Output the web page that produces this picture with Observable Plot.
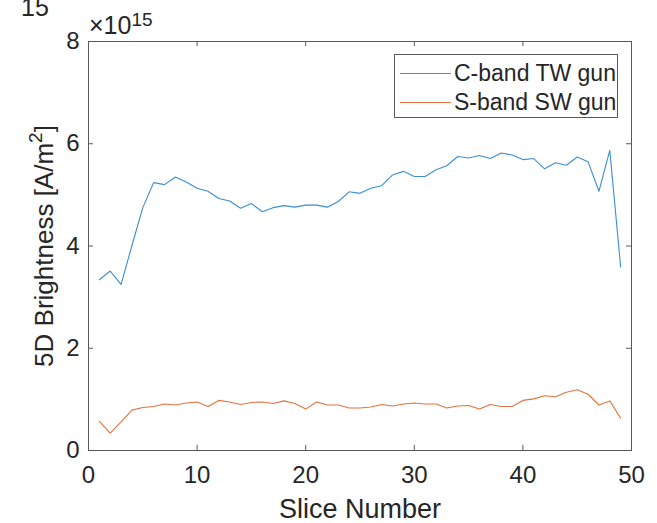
<!DOCTYPE html>
<html>
<head>
<meta charset="utf-8">
<script src="https://cdn.jsdelivr.net/npm/d3@7"></script>
<script src="https://cdn.jsdelivr.net/npm/@observablehq/plot@0.6"></script>
<style>
  html, body { margin: 0; padding: 0; background: #fff; }
  #wrap { position: relative; width: 657px; height: 523px; font-family: "Liberation Sans", Arial, sans-serif; color: #262626; overflow: hidden; }
  .ov { position: absolute; white-space: nowrap; line-height: 1; }
</style>
</head>
<body>
<div id="wrap"></div>
<script>
const slices = d3.range(1, 50);
const cbandTW = [3.34,3.51,3.25,4.01,4.75,5.24,5.20,5.35,5.25,5.13,5.07,4.93,4.88,4.74,4.83,4.67,4.75,4.79,4.76,4.80,
                 4.80,4.76,4.87,5.06,5.03,5.13,5.18,5.39,5.46,5.36,5.36,5.49,5.57,5.75,5.72,5.77,5.71,5.82,5.78,5.69,
                 5.71,5.51,5.63,5.58,5.74,5.65,5.07,5.87,3.59];
const sbandSW = [0.57,0.34,0.56,0.79,0.84,0.86,0.91,0.89,0.93,0.95,0.86,0.98,0.95,0.90,0.94,0.95,0.92,0.97,0.92,0.81,
                 0.95,0.89,0.89,0.83,0.83,0.85,0.90,0.87,0.91,0.93,0.91,0.91,0.83,0.87,0.88,0.81,0.90,0.86,0.86,0.98,
                 1.01,1.07,1.05,1.14,1.19,1.10,0.89,0.97,0.63];
const seriesNames = ["C-band TW gun", "S-band SW gun"];
const colors = ["#3a8fd5", "#e4733f"];
const xTicks = [0, 10, 20, 30, 40, 50];
const yTicks = [0, 2, 4, 6, 8];
const xLabel = "Slice Number";
const yLabelMain = "5D Brightness [A/m";
const yLabelSup = "2";
const yLabelEnd = "]";

const rows = [];
slices.forEach((s, i) => {
  rows.push({slice: s, value: cbandTW[i], series: seriesNames[0]});
  rows.push({slice: s, value: sbandSW[i], series: seriesNames[1]});
});

const axisColor = "#5a5a5a";
const chart = Plot.plot({
  width: 657,
  height: 523,
  marginLeft: 88,
  marginRight: 26,
  marginTop: 41,
  marginBottom: 73,
  style: {fontFamily: "'Liberation Sans', Arial, sans-serif", fontSize: "24px", color: "#262626", background: "#fff", overflow: "visible"},
  x: {domain: [0, 50], ticks: xTicks, label: null},
  y: {domain: [0, 8], ticks: yTicks, label: null},
  color: {domain: seriesNames, range: colors},
  marks: [
    Plot.frame({stroke: axisColor, strokeWidth: 1}),
    // inward tick marks on all four sides
    Plot.ruleX(xTicks, {x: d => d, y1: 0, y2: 0.1, stroke: axisColor}),
    Plot.ruleX(xTicks, {x: d => d, y1: 8, y2: 7.9, stroke: axisColor}),
    Plot.ruleY(yTicks, {y: d => d, x1: 0, x2: 0.46, stroke: axisColor}),
    Plot.ruleY(yTicks, {y: d => d, x1: 50, x2: 49.54, stroke: axisColor}),
    Plot.axisX({ticks: xTicks, tickSize: 0, tickPadding: 15, fontSize: 24, label: null, stroke: "none"}),
    Plot.axisY({ticks: yTicks, tickSize: 0, tickPadding: 9, fontSize: 24, label: null, stroke: "none"}),
    Plot.line(rows, {x: "slice", y: "value", stroke: "series", strokeWidth: 1.1}),
    Plot.text([xLabel], {frameAnchor: "bottom", dy: 59, lineAnchor: "middle", textAnchor: "middle", text: d => d, fontSize: 27, fill: "#262626"})
  ]
});
const wrap = document.getElementById("wrap");
wrap.appendChild(chart);

// y label with a real superscript
const svg = d3.select(chart);
const yl = svg.append("text")
  .attr("transform", "translate(53,246) rotate(-90)")
  .attr("text-anchor", "middle")
  .attr("fill", "#262626")
  .style("font-family", "'Liberation Sans', Arial, sans-serif")
  .style("font-size", "26px");
yl.append("tspan").text(yLabelMain);
yl.append("tspan").attr("dy", -11).style("font-size", "19px").text(yLabelSup);
yl.append("tspan").attr("dy", 11).text(yLabelEnd);

// exponent label
const exp = document.createElement("div");
exp.className = "ov";
exp.style.left = "89px"; exp.style.top = "13px"; exp.style.fontSize = "25px";
exp.innerHTML = "×10<span style='font-size:19px;position:relative;top:-8px'>15</span>";
wrap.appendChild(exp);

// stray cropped "15" at the top-left (as in the reference)
const stray = document.createElement("div");
stray.className = "ov";
stray.style.left = "21px"; stray.style.top = "-5px"; stray.style.fontSize = "25px";
stray.textContent = "15";
wrap.appendChild(stray);

// legend
const leg = document.createElement("div");
leg.className = "ov";
leg.style.left = "394px"; leg.style.top = "54px"; leg.style.width = "222px"; leg.style.height = "62px";
leg.style.border = "1px solid #5a5a5a"; leg.style.background = "#fff";
seriesNames.forEach((name, i) => {
  const row = document.createElement("div");
  row.style.position = "absolute";
  row.style.left = "5px"; row.style.top = (5 + i * 29) + "px";
  row.style.display = "flex"; row.style.alignItems = "center";
  row.style.fontSize = "23px"; row.style.height = "26px";
  row.innerHTML = `<span style="display:inline-block;width:51px;height:0;border-top:1.2px solid ${colors[i]};margin-right:3px"></span><span>${name}</span>`;
  leg.appendChild(row);
});
wrap.appendChild(leg);
</script>
</body>
</html>
